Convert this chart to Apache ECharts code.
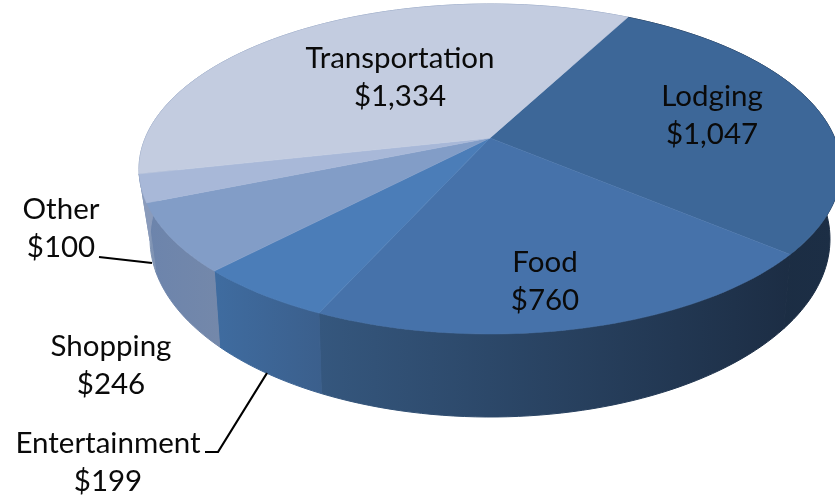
<!DOCTYPE html>
<html>
<head>
<meta charset="utf-8">
<style>
  html, body { margin: 0; padding: 0; background: #fff; }
  #chart { width: 835px; height: 498px; }
</style>
</head>
<body>
<div id="chart"></div>
<script src="https://cdn.jsdelivr.net/npm/echarts@6/dist/echarts.min.js"></script>
<script>
// data, clockwise from the Lodging/Transportation edge
var categories = ['Lodging', 'Food', 'Entertainment', 'Shopping', 'Other', 'Transportation'];
var values = [1047, 760, 199, 246, 100, 1334];
var valueLabels = ['$1,047', '$760', '$199', '$246', '$100', '$1,334'];

// styles
var topColors = ['#3d6798', '#4672aa', '#4b7db8', '#829dc7', '#a8b8d8', '#c3cce0'];
var wallColors = [
    ['#1c2e45', '#1a2b40'],
    ['#35577e', '#1c2d44'],
    ['#3f6ca0', '#3b5f8c'],
    ['#6c84ac', '#7488aa'],
    ['#8296b5', '#7f93b3'],
    ['#8a9bbb', '#8a9bbb']
];
// label centre x, first line y
var labelPos = [[712, 96], [545, 262], [108, 443], [111, 346], [61, 209], [400, 58]];
var leaderLines = [
    [[99, 257], [152, 263]],
    [[205, 452], [218, 452], [267, 373]]
];

var START_DEG = 27.8;
var total = values.reduce(function (a, b) { return a + b; }, 0);

// the tilted disc: each ellipse has its hub pushed up by perspective (k)
var top3d = { cx: 490, cy: 169, rx: 351, ry: 165, k: -0.188 };
var bottom3d = { cx: 490, cy: 239, rx: 340, ry: 178, k: -0.207 };

function project(e, deg) {
    var a = deg * Math.PI / 180;
    var X = Math.sin(a), Y = -Math.cos(a);
    var w = 1 + e.k * Y;
    return [
        e.cx + e.rx * Math.sqrt(1 - e.k * e.k) * X / w,
        e.cy + e.ry * (Y + e.k) / w
    ];
}

function arc(e, d1, d2) {
    var pts = [];
    var n = Math.max(2, Math.ceil((d2 - d1) / 1.5));
    for (var i = 0; i <= n; i++) {
        pts.push(project(e, d1 + (d2 - d1) * i / n));
    }
    return pts;
}

function sliceRange(i) {
    var before = 0;
    for (var j = 0; j < i; j++) before += values[j];
    var d1 = START_DEG + before / total * 360;
    return [d1, d1 + values[i] / total * 360];
}

function renderWall(params, api) {
    var i = params.dataIndex;
    var r = sliceRange(i);
    var upper = arc(top3d, r[0], r[1]);
    var lower = arc(bottom3d, r[0], r[1]).reverse();
    var c = wallColors[i];
    // Lodging runs right to left on the front, so its gradient is flipped
    var flip = i === 0;
    var grad = new echarts.graphic.LinearGradient(flip ? 1 : 0, 0, flip ? 0 : 1, 0, [
        { offset: 0, color: c[0] },
        { offset: 1, color: c[1] }
    ]);
    return {
        type: 'polygon',
        shape: { points: upper.concat(lower) },
        style: { fill: grad, stroke: grad, lineWidth: 1 }
    };
}

function renderTop(params, api) {
    var i = params.dataIndex;
    var r = sliceRange(i);
    var hub = [top3d.cx, top3d.cy + top3d.ry * top3d.k];
    return {
        type: 'polygon',
        shape: { points: [hub].concat(arc(top3d, r[0], r[1])) },
        style: { fill: topColors[i], stroke: topColors[i], lineWidth: 0.5 }
    };
}

function renderLabel(params, api) {
    var i = params.dataIndex;
    var p = labelPos[i];
    var font = '29.5px Lato, sans-serif';
    return {
        type: 'group',
        children: [
            { type: 'text', style: { x: p[0], y: p[1], text: categories[i], font: font, fill: '#0a0a0a', align: 'center', verticalAlign: 'middle' } },
            { type: 'text', style: { x: p[0], y: p[1] + 38, text: valueLabels[i], font: font, fill: '#0a0a0a', align: 'center', verticalAlign: 'middle' } }
        ]
    };
}

function renderLeader(params, api) {
    return {
        type: 'polyline',
        shape: { points: leaderLines[params.dataIndex] },
        style: { fill: 'none', stroke: '#000', lineWidth: 2.2 }
    };
}

var chart = echarts.init(document.getElementById('chart'));
chart.setOption({
    animation: false,
    backgroundColor: '#fff',
    series: [
        { type: 'custom', coordinateSystem: 'none', silent: true, clip: false, renderItem: renderWall, data: values },
        { type: 'custom', coordinateSystem: 'none', silent: true, clip: false, renderItem: renderTop, data: values },
        { type: 'custom', coordinateSystem: 'none', silent: true, clip: false, renderItem: renderLeader, data: leaderLines.map(function (l, i) { return i; }) },
        { type: 'custom', coordinateSystem: 'none', silent: true, clip: false, renderItem: renderLabel, data: values }
    ]
});
</script>
</body>
</html>
